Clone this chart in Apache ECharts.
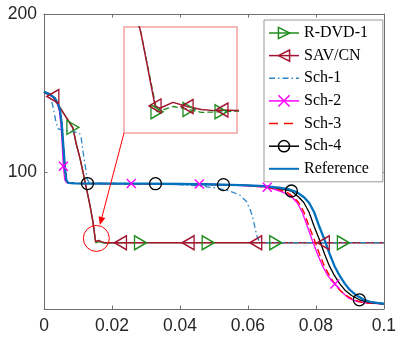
<!DOCTYPE html>
<html><head><meta charset="utf-8">
<script src="https://cdn.jsdelivr.net/npm/echarts@6/dist/echarts.min.js"></script>
<style>html,body{margin:0;padding:0;background:#fff}#c{width:399px;height:339px}</style>
</head><body><div id="c"></div>
<script>
// ---- axis ticks ----
const xTicks = [0, 0.02, 0.04, 0.06, 0.08, 0.1];
const yTicks = [100, 200];
const yRange = [14, 200];
const insetXRange = [0.0135, 0.0195];
const insetYRange = [52, 70];

// ---- series names ----
const names = ['R-DVD-1', 'SAV/CN', 'Sch-1', 'Sch-2', 'Sch-3', 'Sch-4', 'Reference'];

// ---- R-DVD-1 ----
const dvdX = [0, 0.0026, 0.0047, 0.0065, 0.0085, 0.0095, 0.0106, 0.0116, 0.0126, 0.0136, 0.0144, 0.01525, 0.0161, 0.01695, 0.0176, 0.01865, 0.0195, 0.0284, 0.0483, 0.0682, 0.0881, 0.1];
const dvdY = [150.5, 148, 141, 135, 128.5, 118, 109, 99, 89, 78.5, 69, 55.6, 56.5, 56.0, 55.5, 55.6, 55.7, 55.8, 55.8, 55.8, 55.8, 55.8];
const dvdMarks = [0.0085, 0.0284, 0.0483, 0.0682, 0.0881];
const dvdInsetMarks = [0.01525, 0.01695, 0.01865];

// ---- SAV/CN ----
const savX = [0, 0.0026, 0.0047, 0.0065, 0.0085, 0.0095, 0.0106, 0.0116, 0.0126, 0.0136, 0.0144, 0.01515, 0.0154, 0.0161, 0.01685, 0.0176, 0.0183, 0.0187, 0.0195, 0.0225, 0.0424, 0.0623, 0.0822, 0.1];
const savY = [150.5, 148, 141, 135, 128, 118, 109, 99, 89, 78.5, 69, 56.6, 56.2, 57.2, 56.5, 56.0, 55.8, 55.9, 55.8, 55.8, 55.8, 55.8, 55.8, 55.8];
const savMarks = [0.0026, 0.0225, 0.0424, 0.0623, 0.0822];
const savInsetMarks = [0.01515, 0.01685, 0.0187];

// ---- Sch-1 ----
const s1X = [0, 0.0012, 0.0022, 0.0027, 0.0035, 0.0042, 0.0047, 0.008, 0.0104, 0.0109, 0.0115, 0.0123, 0.0127, 0.0133, 0.02, 0.03, 0.04, 0.046, 0.05, 0.0545, 0.0575, 0.0595, 0.0608, 0.0616, 0.0622, 0.0628, 0.0635, 0.065, 0.1];
const s1Y = [151, 149.5, 145.5, 141, 132, 127.5, 126.5, 126, 125, 122.5, 113, 102, 96, 93.5, 93.2, 93, 92.5, 91.5, 90.5, 88.5, 86, 82, 76, 70, 64, 59, 56.2, 55.8, 55.8];

// ---- Sch-2 ----
const s2X = [0, 0.0016, 0.0032, 0.004, 0.0045, 0.005, 0.0054, 0.0057, 0.0061, 0.0067, 0.009, 0.0257, 0.04, 0.0457, 0.055, 0.06, 0.0657, 0.0685, 0.071, 0.073, 0.0745, 0.076, 0.0775, 0.079, 0.0805, 0.082, 0.0835, 0.0856, 0.0875, 0.0895, 0.092, 0.095, 0.1];
const s2Y = [151, 149.5, 146.5, 143, 139, 130, 116, 104, 95.5, 93.5, 93.2, 93.1, 92.9, 92.8, 92.1, 91.6, 90.8, 89, 87, 84.5, 81, 75, 66, 57, 48.5, 41, 35, 29.8, 25, 21, 18.8, 17.7, 17.2];
const s2Marks = [0.0057, 0.0257, 0.0457, 0.0657, 0.0856];

// ---- Sch-3 ----
const s3X = [0, 0.0016, 0.0032, 0.0042, 0.0047, 0.0052, 0.0057, 0.0062, 0.0066, 0.0072, 0.009, 0.02, 0.03, 0.04, 0.05, 0.06, 0.065, 0.069, 0.0715, 0.0735, 0.075, 0.0765, 0.078, 0.0795, 0.081, 0.0825, 0.084, 0.0855, 0.087, 0.089, 0.091, 0.093, 0.095, 0.1];
const s3Y = [151, 149.5, 147, 143, 139.5, 131, 116.5, 102, 95, 93.5, 93.2, 93.1, 93, 92.8, 92.4, 91.8, 90.8, 89.5, 87.5, 84.5, 81, 75, 66, 58, 49, 41, 35, 30, 26, 22.5, 20, 18.5, 17.8, 17.2];

// ---- Sch-4 ----
const s4X = [0, 0.0016, 0.0032, 0.0042, 0.0047, 0.0052, 0.0057, 0.0062, 0.0066, 0.0072, 0.009, 0.0128, 0.02, 0.0328, 0.04, 0.0528, 0.06, 0.065, 0.069, 0.0728, 0.075, 0.0765, 0.078, 0.0795, 0.081, 0.0825, 0.084, 0.0855, 0.087, 0.0885, 0.0905, 0.0928, 0.095, 0.0975, 0.1];
const s4Y = [151, 149.5, 147, 143, 139.5, 131, 116.5, 102, 95, 93.5, 93.2, 93.1, 93.1, 93, 92.8, 92.4, 92, 91.2, 90, 88.4, 84.5, 81, 75, 66, 58, 49, 41, 35, 30, 26, 22.5, 19.8, 18.5, 17.7, 17.2];
const s4Marks = [0.0128, 0.0328, 0.0528, 0.0728, 0.0928];

// ---- Reference ----
const refX = [0, 0.0016, 0.0032, 0.0042, 0.0047, 0.0052, 0.0057, 0.0062, 0.0066, 0.0072, 0.009, 0.02, 0.03, 0.04, 0.05, 0.055, 0.06, 0.065, 0.069, 0.072, 0.0745, 0.0765, 0.078, 0.0795, 0.081, 0.0825, 0.084, 0.0855, 0.087, 0.0885, 0.09, 0.092, 0.094, 0.096, 0.098, 0.1];
const refY = [151, 149.5, 147, 143, 139.5, 131, 116.5, 102, 95, 93.5, 93.2, 93.1, 93, 92.8, 92.5, 92.3, 92, 91.5, 90.5, 89.5, 87.5, 84.5, 81, 75, 66, 58, 49, 41, 35, 30, 26, 22.5, 20, 18.5, 17.8, 17.3];

// ---- annotation (zoom circle) in data coordinates ----
const zoomCenter = [0.0154, 58.5];

// ---------------------------------------------------------------
const C = {
  dvd: '#1e8c1e', sav: '#A2142F', s1: '#2a86c8', s2: '#ff00ff', s3: '#ff0000', s4: '#000000', ref: '#0072BD'
};
const xPath = 'path://M0,0L10,10M0,10L10,0';
const hollow = 'rgba(255,255,255,0)';

function pts(xs, ys, marks) {
  return xs.map((x, i) => (marks && marks.indexOf(x) >= 0) ? [x, ys[i]] : { value: [x, ys[i]], symbol: 'none' });
}
function lineSeries(name, xs, ys, marks, col, extra, grid) {
  const s = {
    name: name, type: 'line', data: pts(xs, ys, marks),
    xAxisIndex: grid ? 2 : 0, yAxisIndex: grid ? 2 : 0,
    color: col, showAllSymbol: true, animation: false, clip: true,
    lineStyle: { color: col, width: 1.3 },
    emphasis: { disabled: true },
    symbol: 'none'
  };
  return Object.assign(s, extra || {});
}

const triR = { symbol: 'triangle', symbolRotate: -90, symbolSize: [14, 12], itemStyle: { color: hollow, borderColor: C.dvd, borderWidth: 1.4 } };
const triL = { symbol: 'triangle', symbolRotate: 90, symbolSize: [14, 12], itemStyle: { color: hollow, borderColor: C.sav, borderWidth: 1.4 } };

const series = [
  lineSeries(names[0], dvdX, dvdY, dvdMarks, C.dvd, Object.assign({}, triR)),
  lineSeries(names[1], savX, savY, savMarks, C.sav, Object.assign({}, triL, { lineStyle: { color: C.sav, width: 1.5 } })),
  lineSeries(names[2], s1X, s1Y, null, C.s1, { lineStyle: { color: C.s1, width: 1.3, type: [6, 3, 1.5, 3] } }),
  lineSeries(names[3], s2X, s2Y, s2Marks, C.s2, { symbol: xPath, symbolSize: 9, itemStyle: { color: 'none', borderColor: C.s2, borderWidth: 1.4 } }),
  lineSeries(names[4], s3X, s3Y, null, C.s3, { lineStyle: { color: C.s3, width: 1.4, type: [7, 4] } }),
  lineSeries(names[5], s4X, s4Y, s4Marks, C.s4, { symbol: 'circle', symbolSize: 12, itemStyle: { color: hollow, borderColor: C.s4, borderWidth: 1.3 } }),
  lineSeries(names[6], refX, refY, null, C.ref, { lineStyle: { color: C.ref, width: 2.3 } }),
  // inset
  lineSeries('dvd-inset', dvdX, dvdY, dvdInsetMarks, C.dvd, Object.assign({}, triR, { lineStyle: { color: C.dvd, width: 1.3, type: [6, 3] } }), true),
  lineSeries('sav-inset', savX, savY, savInsetMarks, C.sav, Object.assign({}, triL, { lineStyle: { color: C.sav, width: 1.5 } }), true)
];

const legendItems = [
  { name: names[0], itemStyle: { color: hollow, borderColor: C.dvd, borderWidth: 1.5 }, lineStyle: { color: C.dvd, width: 1.5 } },
  { name: names[1], itemStyle: { color: hollow, borderColor: C.sav, borderWidth: 1.5 }, lineStyle: { color: C.sav, width: 1.5 } },
  { name: names[2], itemStyle: { color: hollow, borderColor: hollow, borderWidth: 0 }, lineStyle: { color: C.s1, width: 1.5, type: [6, 3, 1.5, 3] } },
  { name: names[3], itemStyle: { color: 'none', borderColor: C.s2, borderWidth: 1.5 }, lineStyle: { color: C.s2, width: 1.5 } },
  { name: names[4], itemStyle: { color: hollow, borderColor: hollow, borderWidth: 0 }, lineStyle: { color: C.s3, width: 1.5, type: [9, 6] } },
  { name: names[5], itemStyle: { color: hollow, borderColor: C.s4, borderWidth: 1.5 }, lineStyle: { color: C.s4, width: 1.5 } },
  { name: names[6], itemStyle: { color: hollow, borderColor: hollow, borderWidth: 0 }, lineStyle: { color: C.ref, width: 2 } }
];

const axisCol = '#6e6e6e';
const labelStyle = { fontFamily: 'Liberation Sans', fontSize: 17.5, color: '#262626' };
const fmt = v => String(parseFloat(Number(v).toFixed(3)));

const option = {
  animation: false,
  backgroundColor: '#fff',
  grid: [
    { left: 44, top: 14, right: 14, bottom: 30, containLabel: false },
    { left: 124, top: 27, width: 113, height: 106, show: true, backgroundColor: '#fff', borderColor: '#f4a3a3', borderWidth: 1.5 }
  ],
  xAxis: [
    { type: 'value', gridIndex: 0, min: xTicks[0], max: xTicks[xTicks.length - 1], interval: xTicks[1] - xTicks[0], position: 'bottom',
      axisLine: { onZero: false, lineStyle: { color: axisCol, width: 1 } },
      axisTick: { inside: true, length: 3.5, lineStyle: { color: axisCol } },
      axisLabel: Object.assign({ margin: 8, formatter: fmt }, labelStyle),
      splitLine: { show: false } },
    { type: 'value', gridIndex: 0, min: xTicks[0], max: xTicks[xTicks.length - 1], interval: xTicks[1] - xTicks[0], position: 'top',
      axisLine: { onZero: false, lineStyle: { color: axisCol, width: 1 } },
      axisTick: { inside: true, length: 3.5, lineStyle: { color: axisCol } },
      axisLabel: { show: false }, splitLine: { show: false } },
    { type: 'value', gridIndex: 1, min: insetXRange[0], max: insetXRange[1], show: false, splitLine: { show: false } }
  ],
  yAxis: [
    { type: 'value', gridIndex: 0, min: yRange[0], max: yRange[1], position: 'left',
      axisLine: { show: true, onZero: false, lineStyle: { color: axisCol, width: 1 } },
      axisTick: { show: true, inside: true, length: 3.5, customValues: yTicks, lineStyle: { color: axisCol } },
      axisLabel: Object.assign({ margin: 7, customValues: yTicks }, labelStyle),
      splitLine: { show: false } },
    { type: 'value', gridIndex: 0, min: yRange[0], max: yRange[1], position: 'right',
      axisLine: { show: true, onZero: false, lineStyle: { color: axisCol, width: 1 } },
      axisTick: { show: true, inside: true, length: 3.5, customValues: yTicks, lineStyle: { color: axisCol } },
      axisLabel: { show: false }, splitLine: { show: false } },
    { type: 'value', gridIndex: 1, min: insetYRange[0], max: insetYRange[1], show: false, splitLine: { show: false } }
  ],
  legend: {
    orient: 'vertical', left: 264, top: 20,
    itemWidth: 30, itemHeight: 14, itemGap: 6.6,
    padding: [5, 14, 5, 4],
    backgroundColor: '#fff', borderColor: '#999', borderWidth: 1,
    selectedMode: false,
    textStyle: { fontFamily: 'Liberation Serif', fontSize: 16, color: '#000' },
    data: legendItems
  },
  series: series
};

const chart = echarts.init(document.getElementById('c'), null, { renderer: 'canvas' });
chart.setOption(option);

// annotation: circle + arrow from inset corner
const ctr = chart.convertToPixel({ xAxisIndex: 0, yAxisIndex: 0 }, zoomCenter);
const corner = chart.convertToPixel({ xAxisIndex: 2, yAxisIndex: 2 }, [insetXRange[0], insetYRange[0]]);
const r = 13;
let dx = corner[0] - ctr[0], dy = corner[1] - ctr[1];
const L = Math.hypot(dx, dy); dx /= L; dy /= L;
const tip = [ctr[0] + dx * 14, ctr[1] + dy * 14];
const base = [tip[0] + dx * 8, tip[1] + dy * 8];
const nx = -dy, ny = dx;
chart.setOption({
  graphic: [
    { type: 'circle', z: 100, shape: { cx: ctr[0], cy: ctr[1], r: r }, style: { fill: 'none', stroke: '#ff0000', lineWidth: 1 } },
    { type: 'line', z: 100, shape: { x1: corner[0], y1: corner[1], x2: base[0], y2: base[1] }, style: { stroke: '#ff0000', lineWidth: 1 } },
    { type: 'polygon', z: 100, shape: { points: [tip, [base[0] + nx * 3.5, base[1] + ny * 3.5], [base[0] - nx * 3.5, base[1] - ny * 3.5]] }, style: { fill: '#ff0000' } }
  ]
});
</script>
</body></html>
